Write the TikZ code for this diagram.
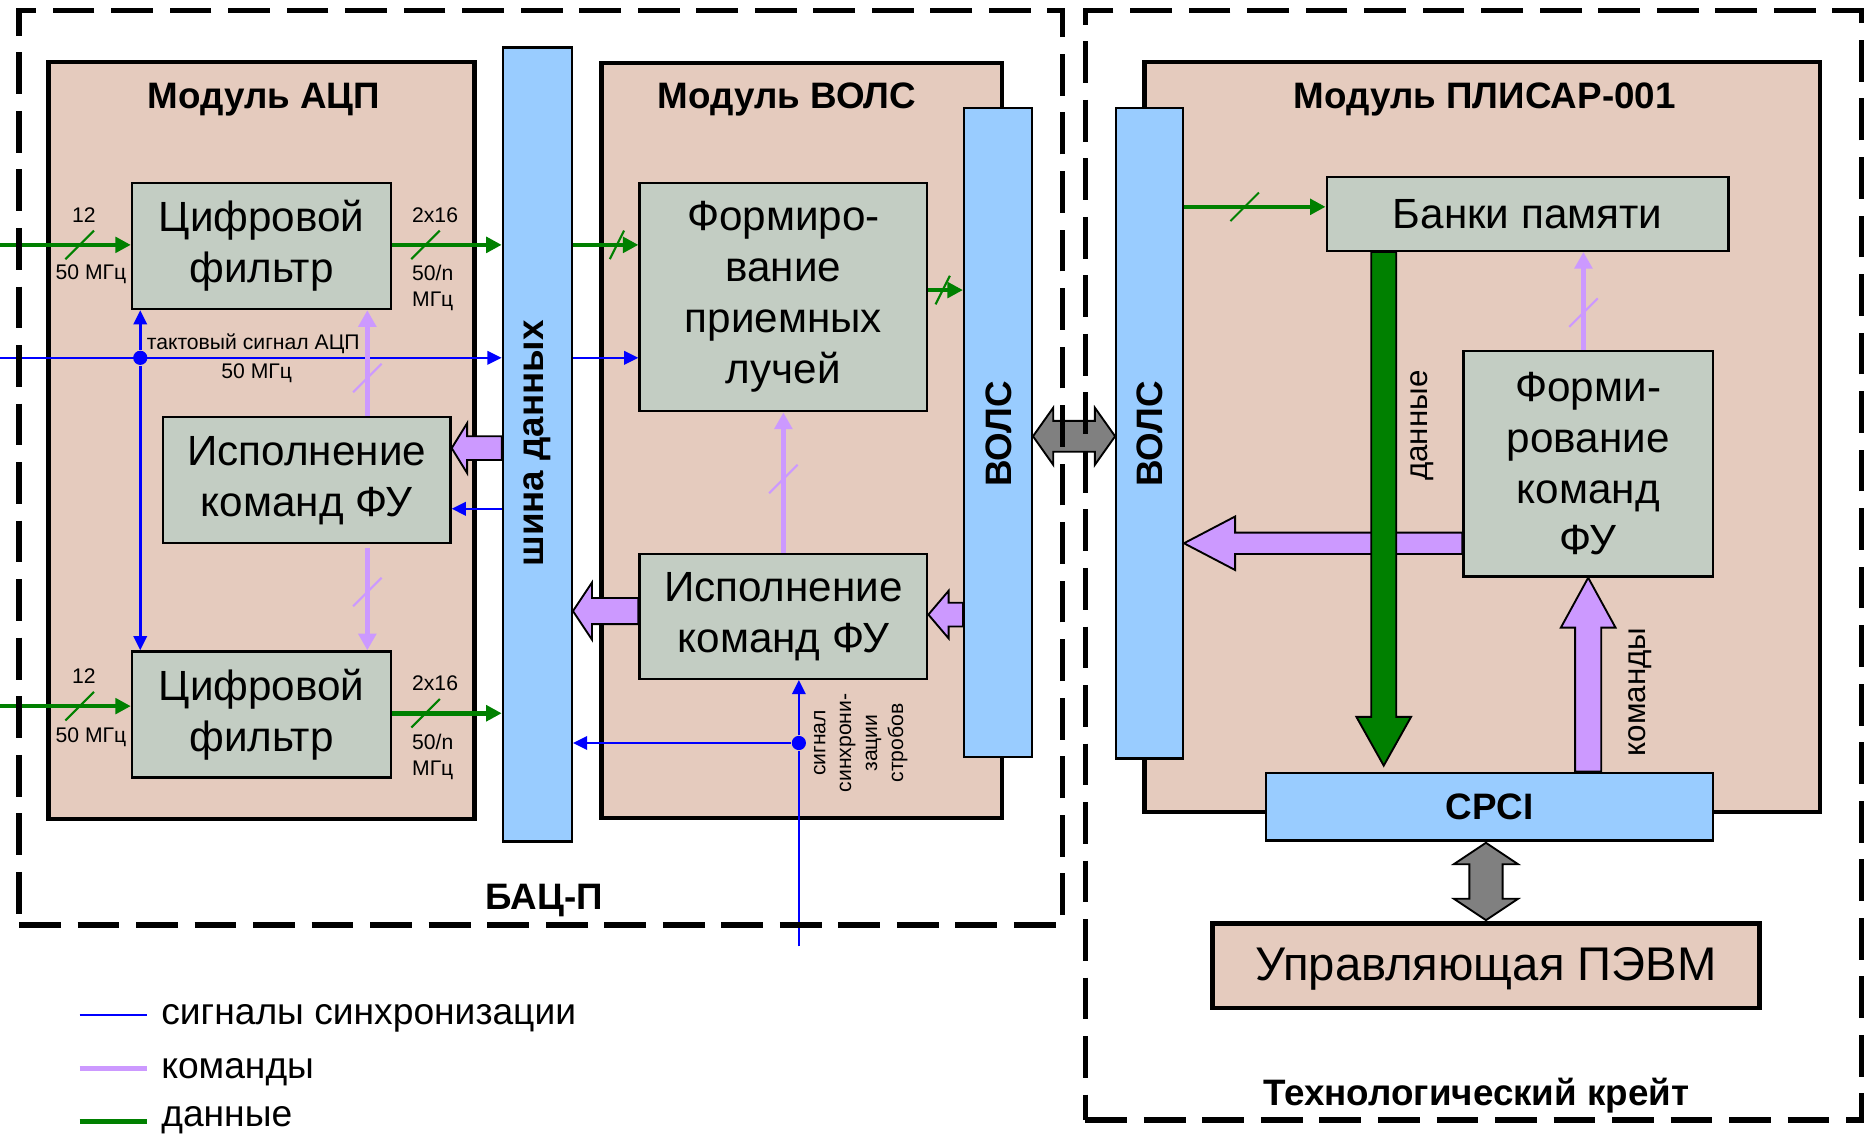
\documentclass[tikz,border=0pt]{standalone}
\usepackage{fontspec}
\setmainfont{Liberation Sans}
\usetikzlibrary{arrows.meta,calc,fit}

\definecolor{modfill}{HTML}{E5CBBE}
\definecolor{boxfill}{HTML}{C3CDC3}
\definecolor{busblue}{HTML}{99CCFF}
\definecolor{cmdpurple}{HTML}{CC99FF}
\definecolor{datagreen}{HTML}{008000}
\definecolor{syncblue}{HTML}{0000FF}
\definecolor{arrgray}{HTML}{808080}

\newcommand\fsz[2]{\fontsize{#1}{#2}\selectfont}
% horizontal block arrow: tip, tail, shaft half, head half, head length (signed), style
\newcommand\fatH[6]{\draw[#6] (#1) -- ($(#1)+(#5,-#4)$) -- ($(#1)+(#5,-#3)$) -- ($(#2)+(0,-#3)$) -- ($(#2)+(0,#3)$) -- ($(#1)+(#5,#3)$) -- ($(#1)+(#5,#4)$) -- cycle;}
% vertical block arrow
\newcommand\fatV[6]{\draw[#6] (#1) -- ($(#1)+(-#4,#5)$) -- ($(#1)+(-#3,#5)$) -- ($(#2)+(-#3,0)$) -- ($(#2)+(#3,0)$) -- ($(#1)+(#3,#5)$) -- ($(#1)+(#4,#5)$) -- cycle;}
% double block arrows
\newcommand\dblH[6]{\draw[#6] (#1) -- ($(#1)+(#5,-#4)$) -- ($(#1)+(#5,-#3)$) -- ($(#2)+(-#5,-#3)$) -- ($(#2)+(-#5,-#4)$) -- (#2) -- ($(#2)+(-#5,#4)$) -- ($(#2)+(-#5,#3)$) -- ($(#1)+(#5,#3)$) -- ($(#1)+(#5,#4)$) -- cycle;}
\newcommand\dblV[6]{\draw[#6] (#1) -- ($(#1)+(-#4,#5)$) -- ($(#1)+(-#3,#5)$) -- ($(#2)+(-#3,-#5)$) -- ($(#2)+(-#4,-#5)$) -- (#2) -- ($(#2)+(#4,-#5)$) -- ($(#2)+(#3,-#5)$) -- ($(#1)+(#3,#5)$) -- ($(#1)+(#4,#5)$) -- cycle;}

\tikzset{
 dashbox/.style={draw, line width=1.3pt, dash pattern=on 10pt off 4pt, inner sep=0pt},
 modbox/.style={draw, fill=modfill, line width=1.1pt, inner sep=0pt},
 funcbox/.style={draw, fill=boxfill, line width=0.55pt, inner sep=0pt},
 boxtext/.style={inner sep=0pt, align=center, font=\fsz{10.1}{12.2}},
 busbar/.style={draw, fill=busblue, line width=0.55pt, inner sep=0pt},
 bartext/.style={font=\bfseries\fsz{8.8}{10}, rotate=90, inner sep=0pt},
 title/.style={font=\bfseries\fsz{8.8}{10}, inner sep=0pt},
 small/.style={font=\fsz{5.06}{6.26}, inner sep=0pt, align=left},
 sidetext/.style={font=\fsz{7.5}{9}, rotate=90, inner sep=0pt},
 legendtext/.style={font=\fsz{8.9}{10}, inner sep=0pt, anchor=base west},
 syncline/.style={draw=syncblue, line width=0.6pt},
 sync/.style={syncline, -{Triangle[length=3.4pt,width=3.2pt]}},
 data/.style={draw=datagreen, line width=1.1pt, -{Triangle[length=3.7pt,width=3.7pt]}},
 cmd/.style={draw=cmdpurple, line width=1.1pt, -{Triangle[length=4pt,width=4.2pt]}},
 fatcmd/.style={draw=black, fill=cmdpurple, line width=0.45pt},
 fatdata/.style={draw=black, fill=datagreen, line width=0.45pt},
 fatgray/.style={draw=black, fill=arrgray, line width=0.45pt},
 syncdot/.style={circle, fill=syncblue, inner sep=0pt, minimum size=3.4pt},
 tickmark/.pic={\draw[line width=0.5pt] (-12,12) -- (12,-12);},
 steeptick/.pic={\draw[line width=0.5pt] (-6,12) -- (6,-12);},
}

\begin{document}
\begin{tikzpicture}[x=0.01cm, y=-0.01cm]
\useasboundingbox (0,0) rectangle (1568,955);

% modules
\node[modbox, fit={(41,52) (399,689)}] (adc) {};
\node[modbox, fit={(506,53) (843,688)}] (volsmod) {};
\node[modbox, fit={(963,52) (1531,683)}] (plis) {};
\node[title, anchor=base] (tadc) at (222,91) {Модуль АЦП};
\node[title, anchor=base] (tvols) at (662,91) {Модуль ВОЛС};
\node[title, anchor=base] (tplis) at (1249,91.5) {Модуль ПЛИСАР-001};

% function boxes
\node[funcbox, fit={(111,154) (329,260)}] (filt1) {};
\node[boxtext] (tfilt1) at (filt1.center) {Цифровой\\фильтр};
\node[funcbox, fit={(137,351) (379,457)}] (exe1) {};
\node[boxtext] (texe1) at (exe1.center) {Исполнение\\команд ФУ};
\node[funcbox, fit={(111,548) (329,654)}] (filt2) {};
\node[boxtext] (tfilt2) at (filt2.center) {Цифровой\\фильтр};
\node[funcbox, fit={(538,154) (780,346)}] (beam) {};
\node[boxtext] (tbeam) at (beam.center) {Формиро-\\вание\\приемных\\лучей};
\node[funcbox, fit={(538,466) (780,571)}] (exe2) {};
\node[boxtext] (texe2) at (exe2.center) {Исполнение\\команд ФУ};
\node[funcbox, fit={(1116,149) (1454,211)}] (banks) {};
\node[boxtext] (tbanks) at (banks.center) {Банки памяти};
\node[funcbox, fit={(1231,295) (1441,485)}] (fcmd) {};
\node[boxtext] (tfcmd) at (fcmd.center) {Форми-\\рование\\команд\\ФУ};

% bars
\node[busbar, fit={(423,40) (481,708)}] (bus) {};
\node[bartext] (tbus) at (452,373) {шина данных};
\node[busbar, fit={(811,91) (868,637)}] (vbar1) {};
\node[bartext] (tv1) at (840,365) {ВОЛС};
\node[busbar, fit={(939,91) (995,638)}] (vbar2) {};
\node[bartext] (tv2) at (967,365) {ВОЛС};
\node[busbar, fit={(1065,650) (1441,707)}] (cpci) {};
\node[title] (tcpci) at (cpci.center) {CPCI};

% PC
\node[modbox, fit={(1020,777) (1480,848)}] (pc) {};
\node[font=\fsz{11.3}{13}, inner sep=0pt, anchor=base] (tpc) at (1250,825) {Управляющая ПЭВМ};

% level coordinates
\coordinate (in1) at (0,206);
\coordinate (clk) at (0,301);
\coordinate (in2) at (0,594);
\coordinate (y600) at (0,600);
\coordinate (y428) at (0,428);
\coordinate (y377) at (0,377);
\coordinate (y244) at (0,244);
\coordinate (y514) at (0,514);
\coordinate (y517) at (0,517);
\coordinate (y367) at (0,367);
\coordinate (y174) at (0,174);
\coordinate (y457) at (0,457);
\coordinate (px) at (309,0);
\coordinate (mx) at (659,0);
\coordinate (rx) at (1332,0);
\coordinate (gx) at (1164,0);
\coordinate (ux) at (1336,0);
\coordinate (vx) at (1250,0);

% ADC module connections
\draw[data] (in1) -- (in1 -| filt1.west);
\draw[data] (filt1.east |- in1) -- (bus.west |- in1);
\draw[data] (in2) -- (in2 -| filt2.west);
\draw[data] (filt2.east |- y600) -- (bus.west |- y600);
\draw[sync] (clk) -- (clk -| bus.west);
\node[syncdot] (cdot) at (118,301) {};
\draw[sync] (cdot) -- (cdot |- filt1.south);
\draw[sync] (cdot) -- (cdot |- filt2.north);
\draw[cmd] (px |- exe1.north) -- (px |- filt1.south);
\draw[cmd] ($(px |- exe1.south)+(0,3)$) -- (px |- filt2.north);
\draw[sync] (bus.west |- y428) -- (exe1.east |- y428);

\pic[color=datagreen] at (67,206) {tickmark};
\pic[color=datagreen] at (358,206) {tickmark};
\pic[color=datagreen] at (67,594) {tickmark};
\pic[color=datagreen] at (358,600) {tickmark};
\pic[color=cmdpurple] at (309,318) {tickmark};
\pic[color=cmdpurple] at (309,498) {tickmark};

\node[small] (l12a) at (70.5,181) {12};
\node[small] (l50a) at (76.5,231) {50 МГц};
\node[small] (l216a) at (366,181) {2x16};
\node[small, anchor=west] (l50na) at (346,242) {50/n\\МГц};
\node[small] (l12b) at (70.5,569) {12};
\node[small] (l50b) at (76.5,620) {50 МГц};
\node[small] (l216b) at (366,575) {2x16};
\node[small, anchor=west] (l50nb) at (346,636.5) {50/n\\МГц};
\node[small] (ltakt) at (213,289) {тактовый сигнал АЦП};
\node[small] (ltakt2) at (216,314) {50 МГц};

% VOLS module connections
\draw[data] (bus.east |- in1) -- (beam.west |- in1);
\draw[sync] (bus.east |- clk) -- (beam.west |- clk);
\draw[data] (beam.east |- y244) -- (vbar1.west |- y244);
\draw[cmd] (mx |- exe2.north) -- (mx |- beam.south);
\pic[color=datagreen] at (519,206) {steeptick};
\pic[color=datagreen] at (793,244) {steeptick};
\pic[color=cmdpurple] at (659,403) {tickmark};

\coordinate (sbot) at (672,796);
\node[syncdot] (sdot) at (672,625) {};
\draw[syncline] (sbot) -- (sdot);
\draw[sync] (sdot) -- (sdot |- exe2.south);
\draw[sync] (sdot) -- (sdot -| bus.east);
\node[small, rotate=90, align=center, font=\fsz{5.06}{6.2}] (lstrobe) at (724,625) {сигнал\\синхрони-\\зации\\стробов};

% fat arrows in BAC-P
\coordinate (f1tip) at (exe1.east |- y377);
\coordinate (f1tail) at (bus.west |- y377);
\fatH{f1tip}{f1tail}{10}{21}{13}{fatcmd}
\coordinate (f2tip) at (bus.east |- y514);
\coordinate (f2tail) at (exe2.west |- y514);
\fatH{f2tip}{f2tail}{11}{24}{16}{fatcmd}
\coordinate (f3tip) at (exe2.east |- y517);
\coordinate (f3tail) at (vbar1.west |- y517);
\fatH{f3tip}{f3tail}{10}{20}{17}{fatcmd}

% link between VOLS bars
\coordinate (g1l) at (vbar1.east |- y367);
\coordinate (g1r) at (vbar2.west |- y367);
\dblH{g1l}{g1r}{13}{24}{17}{fatgray}

% PLISAR module
\draw[data] (vbar2.east |- y174) -- (banks.west |- y174);
\pic[color=datagreen] at (1047,174) {tickmark};
\draw[cmd] (rx |- fcmd.north) -- (rx |- banks.south);
\pic[color=cmdpurple] at (1332,263) {tickmark};

\coordinate (f4tip) at (vbar2.east |- y457);
\coordinate (f4tail) at (fcmd.west |- y457);
\fatH{f4tip}{f4tail}{9}{22.5}{43}{fatcmd}
\coordinate (f5tip) at (ux |- fcmd.south);
\coordinate (f5tail) at (ux |- cpci.north);
\fatV{f5tip}{f5tail}{11}{23}{42}{fatcmd}
\coordinate (f6tail) at (gx |- banks.south);
\coordinate (f6tip) at ($(gx |- cpci.north)+(0,-5)$);
\fatV{f6tip}{f6tail}{10.5}{23}{-41}{fatdata}
\node[sidetext] (ldata) at (1196,358) {данные};
\node[sidetext] (lcmd) at (1380,582) {команды};

\coordinate (g2t) at ($(vx |- cpci.south)+(0,1)$);
\coordinate (g2b) at ($(vx |- pc.north)+(0,-1)$);
\dblV{g2t}{g2b}{14}{27}{18}{fatgray}

% dashed containers
\node[dashbox, fit={(16,9) (894,778)}] (bac) {};
\node[dashbox, fit={(913,9) (1566,942)}] (crate) {};
\node[title, anchor=base] (tbac) at (458,765) {БАЦ-П};
\node[title, anchor=base] (tcrate) at (1242,930) {Технологический крейт};

% legend
\coordinate (la1) at (67,854); \coordinate (lb1) at (124,854);
\coordinate (la2) at (67,899); \coordinate (lb2) at (124,899);
\coordinate (la3) at (67,943); \coordinate (lb3) at (124,943);
\draw[syncline] (la1) -- (lb1);
\draw[cmdpurple, line width=1.2pt] (la2) -- (lb2);
\draw[datagreen, line width=1.2pt] (la3) -- (lb3);
\node[legendtext] (lg1) at (135,862) {сигналы синхронизации};
\node[legendtext] (lg2) at (135,907) {команды};
\node[legendtext] (lg3) at (135,948) {данные};
\end{tikzpicture}
\end{document}
